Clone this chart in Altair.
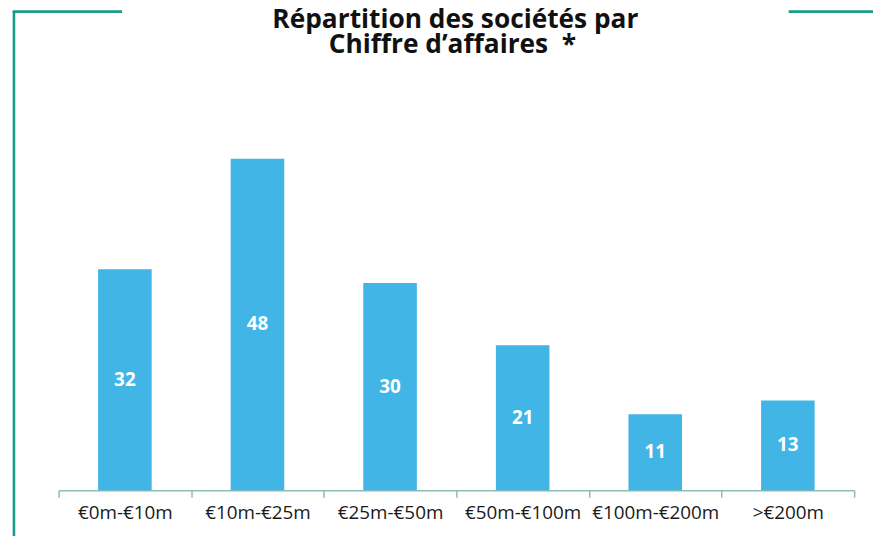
import altair as alt
import pandas as pd

categories = ["€0m-€10m", "€10m-€25m", "€25m-€50m", "€50m-€100m", "€100m-€200m", ">€200m"]
values = [32, 48, 30, 21, 11, 13]
title_lines = ["Répartition des sociétés par", "Chiffre d’affaires\u00a0 *"]

df = pd.DataFrame({"cat": categories, "val": values})
one = pd.DataFrame({"a": [0]})

W, H = 802, 348
BAR = "#41B5E5"
FRAME = "#1B9C8A"
AXIS = "#8DBDB3"

xenc = alt.X(
    "cat:N", sort=categories, title=None,
    scale=alt.Scale(paddingInner=0, paddingOuter=0),
    axis=alt.Axis(
        tickBand="extent", labelAngle=0, grid=False,
        domainColor=AXIS, domainWidth=1.5, tickColor=AXIS, tickWidth=1.5, tickSize=7,
        labelFont="Open Sans", labelFontSize=19, labelColor="#1a1a1a", labelPadding=6,
    ),
)
yscale = alt.Scale(domain=[0, 50])

bars = alt.Chart(df).mark_bar(size=54, color=BAR).encode(
    x=xenc, y=alt.Y("val:Q", scale=yscale, axis=None)
)
labels = alt.Chart(df).transform_calculate(mid="datum.val / 2").mark_text(
    font="Open Sans", fontWeight="bold", fontSize=19, color="white", baseline="middle"
).encode(
    x=alt.X("cat:N", sort=categories), y=alt.Y("mid:Q", scale=yscale), text="val:Q"
)

tstyle = dict(font="Open Sans", fontWeight="bold", fontSize=26.5, color="#111111",
              baseline="alphabetic", align="center")
title1 = alt.Chart(one).mark_text(**tstyle).encode(
    x=alt.value(400), y=alt.value(-118), text=alt.value(title_lines[0]))
title2 = alt.Chart(one).mark_text(**tstyle).encode(
    x=alt.value(397), y=alt.value(-93), text=alt.value(title_lines[1]))

left = alt.Chart(one).mark_rule(color=FRAME, strokeWidth=2.6).encode(
    x=alt.value(-45), y=alt.value(-134.5), y2=alt.value(420)
)
topl = alt.Chart(one).mark_rule(color=FRAME, strokeWidth=2.6).encode(
    x=alt.value(-46.3), x2=alt.value(64), y=alt.value(-134.5)
)
topr = alt.Chart(one).mark_rule(color=FRAME, strokeWidth=2.6).encode(
    x=alt.value(736), x2=alt.value(830), y=alt.value(-134.5)
)

chart = alt.layer(bars, labels, title1, title2, left, topl, topr).properties(
    width=W, height=H,
    padding={"left": 51, "top": 136, "right": 19, "bottom": 44},
    autosize=alt.AutoSizeParams(type="none"),
).configure_view(stroke=None)

chart.save("out.html", embed_options={"renderer": "svg", "actions": False})
